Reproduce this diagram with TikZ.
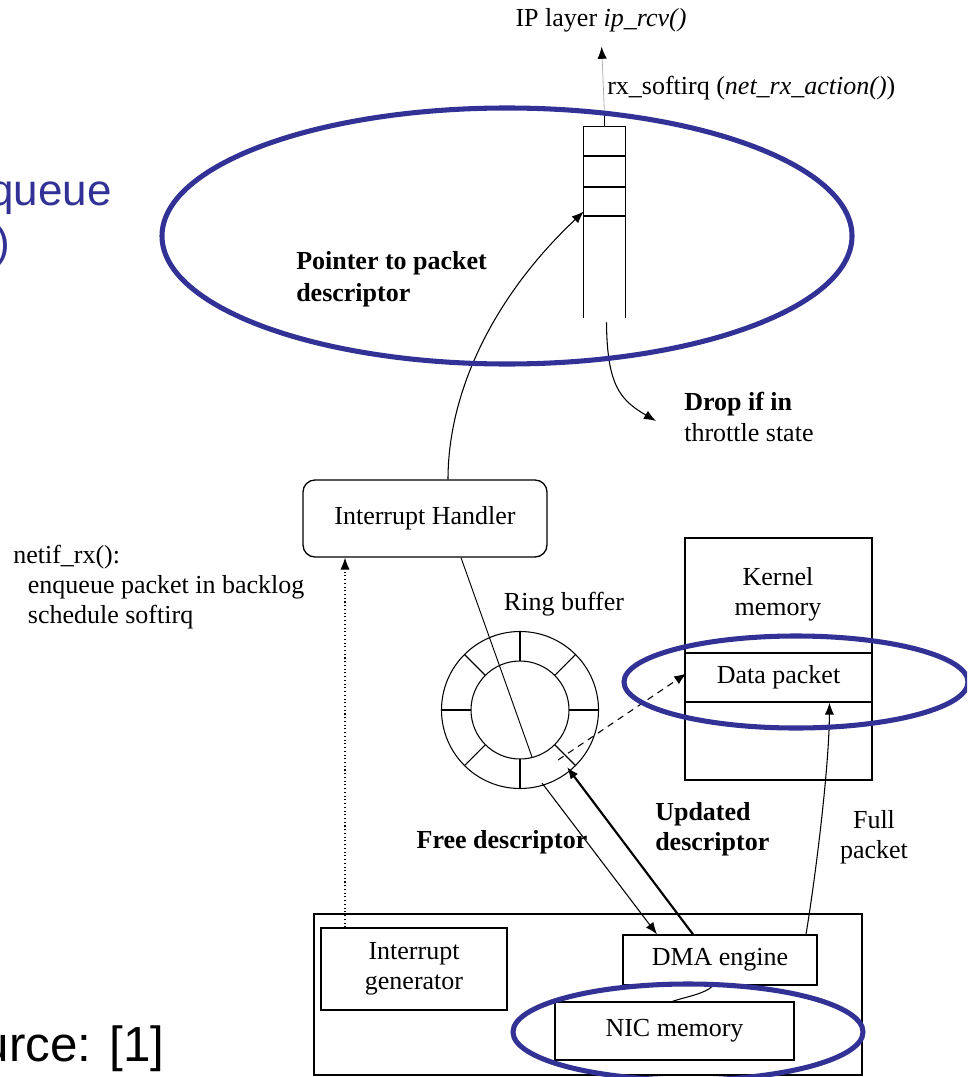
\documentclass[tikz,border=0pt]{standalone}
\usepackage{fontspec}
\setmainfont{Liberation Serif}
\newfontfamily\arialfont{Liberation Sans}
\usetikzlibrary{arrows.meta,calc}
\definecolor{ublue}{RGB}{50,50,150}
\begin{document}
\begin{tikzpicture}[x=0.75pt,y=-0.75pt,
  lbl/.style={font=\fontsize{19.5}{22.5}\selectfont, inner sep=0pt, align=center},
  bl/.style={lbl, font=\fontsize{19.5}{22.5}\selectfont\bfseries},
  box/.style={draw, line width=1pt, lbl},
  arr/.style={-{Latex[length=9pt,width=7pt]}, line width=0.8pt},
  ell/.style={draw=ublue, line width=3.8pt},
  big/.style={inner sep=0pt, text=ublue, font=\arialfont\fontsize{33}{40}\selectfont}]
\useasboundingbox (0,0) rectangle (967,1077);
\clip (0,0) rectangle (967,1077);

% blue slide text
\node[big, anchor=base east] (t1) at (112,205) {queue};
\node[big, anchor=base east] (t2) at (10,257) {)};
\node[big, text=black, font=\arialfont\fontsize{37}{44}\selectfont, anchor=base east] (src) at (165,1061) {urce: [1]};

% top labels
\node[lbl] (ip) at (601,20) {IP layer \textit{ip\_rcv()}};
\node[lbl, anchor=west] (rx) at (607,88) {rx\_softirq (\textit{net\_rx\_action()})};

% queue
\node[minimum width=30.75pt, minimum height=143.25pt, inner sep=0pt] (queue) at (604.5,222.5) {};
\draw[line width=1pt] (queue.south west) -- (queue.north west) -- (queue.north east) -- (queue.south east);
\foreach \yy in {156,187,216} \draw[line width=1pt] (584,\yy) -- (625,\yy);
\draw[line width=1pt] (queue.north) -- ++(0,-12);
\draw[line width=0.6pt, draw=black!30, -{Latex[length=9pt,width=7pt,color=black]}, shorten >=11pt] ($(queue.north)+(0,-12)$) -- (ip.south);

\node[bl, align=left, anchor=north west, font=\fontsize{19.5}{24.5}\selectfont\bfseries] (ptr) at (296,251) {Pointer to packet\\descriptor};
\node[lbl, align=left, anchor=north west, font=\fontsize{19.5}{23.2}\selectfont] (drop) at (684,392) {\textbf{Drop if in}\\throttle state};
\coordinate (dropend) at (656,421);
\draw[arr] ($(queue.south)+(2,4)$) .. controls (607,385) and (620,400) .. (dropend);

% interrupt handler
\node[box, rounded corners=9pt, minimum width=183pt, minimum height=57.75pt] (ih) at (425,518.5) {Interrupt Handler};
\draw[arr] ($(ih.north)+(23,0)$) .. controls (448,390) and (495,295) .. ($(queue.west)+(0,-11)$);

\node[lbl, align=left, anchor=north west] (netif) at (13,545) {netif\_rx():\\\hspace*{11pt}enqueue packet in backlog\\\hspace*{11pt}schedule softirq};

% ring buffer
\node[lbl] (rblabel) at (564,604) {Ring buffer};
\node[draw, circle, line width=0.8pt, minimum size=117.75pt, inner sep=0pt] (ring) at (520,710) {};
\draw[line width=0.8pt] (ring.center) circle (49);
\foreach \a in {0,45,...,315} \draw[line width=0.8pt] ($(ring.center)+(\a:49)$) -- ($(ring.center)+(\a:78.5)$);
\draw[line width=0.7pt] ($(ih.south)+(36,0)$) -- ($(ring.center)+(12,47)$);

% kernel memory
\node[draw, line width=1pt, minimum width=140.25pt, minimum height=181.5pt, inner sep=0pt] (kmem) at (778.5,659) {};
\node[lbl] (klabel) at (778,594) {Kernel\\memory};
\node[box, minimum width=140.25pt, minimum height=36.75pt] (data) at (778.5,677.5) {Data packet};

\draw[arr, dashed, dash pattern=on 5pt off 4pt] ($(ring.center)+(38,50)$) -- ($(data.west)+(2,-4)$);

% NIC
\node[draw, line width=1pt, minimum width=411pt, minimum height=120.75pt, inner sep=0pt] (nic) at (588,994.5) {};
\node[box, minimum width=139.5pt, minimum height=61.5pt] (igen) at (414,969) {Interrupt\\generator};
\node[box, minimum width=145.5pt, minimum height=37.5pt] (dma) at (720,960) {DMA engine};
\node[box, minimum width=179.25pt, minimum height=43.5pt] (nicmem) at (674.5,1031) {NIC memory};

\draw[arr, dotted, line width=0.8pt] ($(igen.north)+(-69,0)$) -- ($(ih.south)+(-80,0)$);
\draw[arr] ($(ring.center)+(22,73)$) -- ($(dma.north)+(-63,0)$);
\draw[arr, line width=1.6pt] ($(dma.north)+(-27,0)$) -- ($(ring.center)+(47,57)$);
\draw[arr] ($(dma.north)+(86,0)$) .. controls (815,880) and (829,770) .. ($(data.south)+(51,0)$);
\draw[line width=0.8pt] ($(dma.south)+(-7,0)$) .. controls (705,994) and (685,997) .. ($(nicmem.north)+(-2,0)$);

\node[bl] (free) at (502,842) {Free descriptor};
\node[bl, align=left, anchor=west] (upd) at (655,829) {Updated\\descriptor};
\node[lbl] (full) at (874,837) {Full\\packet};

% highlight ellipses
\draw[ell] (507,236) ellipse [x radius=345, y radius=128];
\draw[ell] (796,682) ellipse [x radius=172, y radius=46];
\draw[ell] (688,1032) ellipse [x radius=175, y radius=48];
\end{tikzpicture}
\end{document}
